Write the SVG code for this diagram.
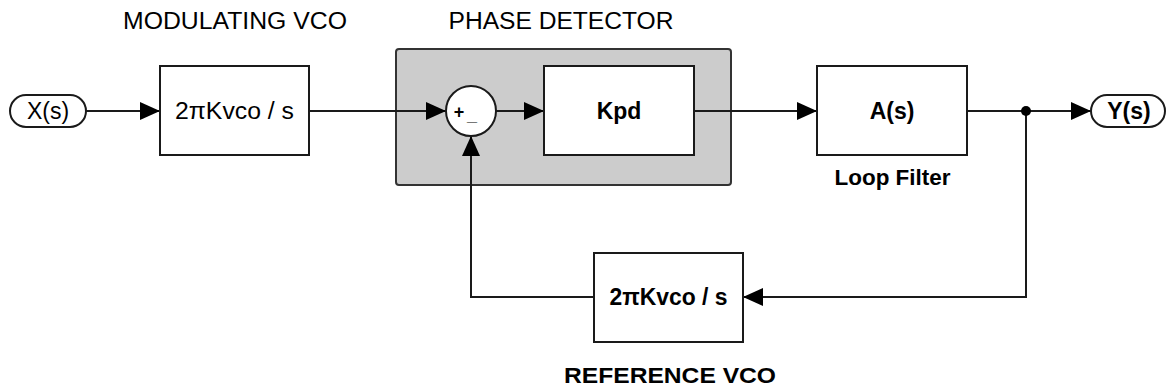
<svg xmlns="http://www.w3.org/2000/svg" width="1167" height="389" viewBox="0 0 1167 389">
<style>
.blk{fill:#fff;stroke:#1a1a1a;stroke-width:2}
.term{fill:#fff;stroke:#1a1a1a;stroke-width:2}
.wire{fill:none;stroke:#1a1a1a;stroke-width:2}
.t{font-family:"Liberation Sans",Arial,sans-serif;font-size:23px;fill:#000;text-anchor:middle;dominant-baseline:central}
.b{font-weight:bold}
.lbl{font-family:"Liberation Sans",Arial,sans-serif;font-size:23px;fill:#000;text-anchor:middle}
</style>
<defs>
<marker id="ah" markerUnits="userSpaceOnUse" markerWidth="20" markerHeight="18" refX="20" refY="9" orient="auto" viewBox="0 0 20 18">
<path d="M0,0 L20,9 L0,18 Z" fill="#000"/>
</marker>
</defs>
<rect x="0" y="0" width="1167" height="389" fill="#fff"/>

<g id="phase-detector">
<rect x="396" y="49" width="335" height="136" rx="3" fill="#cccccc" stroke="#333" stroke-width="2"/>
<text class="lbl" x="561" y="29" textLength="225" lengthAdjust="spacingAndGlyphs">PHASE DETECTOR</text>
</g>

<g id="connectors">
<line class="wire" x1="86" y1="111" x2="160" y2="111" marker-end="url(#ah)"/>
<line class="wire" x1="309" y1="111" x2="446" y2="111" marker-end="url(#ah)"/>
<line class="wire" x1="496" y1="111" x2="544" y2="111" marker-end="url(#ah)"/>
<line class="wire" x1="694" y1="111" x2="817" y2="111" marker-end="url(#ah)"/>
<line class="wire" x1="967" y1="111" x2="1091" y2="111" marker-end="url(#ah)"/>
<polyline class="wire" points="1026,111 1026,297 743,297" marker-end="url(#ah)"/>
<polyline class="wire" points="594,297 471,297 471,136" marker-end="url(#ah)"/>
<circle cx="1026" cy="111" r="5" fill="#000"/>
</g>

<g id="x-input">
<rect class="term" x="10" y="95" width="76" height="32" rx="16"/>
<text class="t" x="48" y="111">X(s)</text>
</g>

<g id="modulating-vco">
<rect class="blk" x="160" y="66" width="149" height="89"/>
<text class="t" x="234.5" y="111" textLength="119" lengthAdjust="spacingAndGlyphs">2πKvco / s</text>
<text class="lbl" x="235" y="29" textLength="224" lengthAdjust="spacingAndGlyphs">MODULATING VCO</text>
</g>

<g id="summer">
<circle class="blk" cx="471" cy="111" r="25"/>
<text x="459" y="118" font-family="Liberation Sans, Arial, sans-serif" font-size="18" font-weight="bold" text-anchor="middle">+</text>
<text x="472" y="121" font-family="Liberation Sans, Arial, sans-serif" font-size="18" font-weight="bold" text-anchor="middle">_</text>
</g>

<g id="kpd">
<rect class="blk" x="544" y="66" width="150" height="89"/>
<text class="t b" x="619" y="111">Kpd</text>
</g>

<g id="loop-filter">
<rect class="blk" x="817" y="66" width="150" height="89"/>
<text class="t b" x="892" y="111">A(s)</text>
<text class="lbl b" x="892.5" y="185" font-size="22" textLength="116" lengthAdjust="spacingAndGlyphs" style="font-size:22px">Loop Filter</text>
</g>

<g id="y-output">
<rect class="term" x="1091" y="95" width="74" height="32" rx="16"/>
<text class="t b" x="1129" y="111">Y(s)</text>
</g>

<g id="reference-vco">
<rect class="blk" x="594" y="253" width="149" height="89"/>
<text class="t b" x="668.5" y="297" textLength="118" lengthAdjust="spacingAndGlyphs">2πKvco / s</text>
<text class="lbl b" x="670" y="383" textLength="212" lengthAdjust="spacingAndGlyphs" style="font-size:22px">REFERENCE VCO</text>
</g>
</svg>
